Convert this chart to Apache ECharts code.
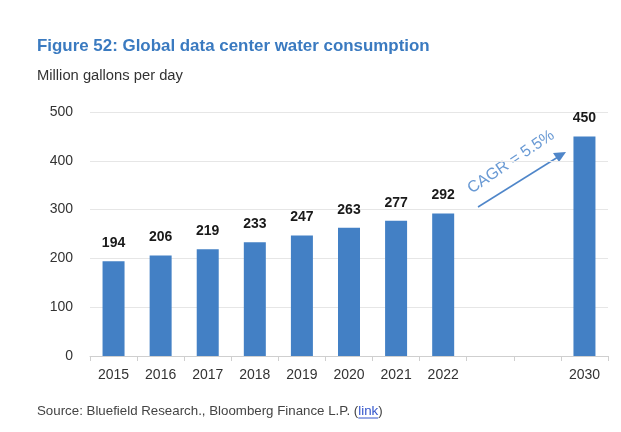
<!DOCTYPE html>
<html><head><meta charset="utf-8">
<script src="https://cdn.jsdelivr.net/npm/echarts@6/dist/echarts.min.js"></script>
<style>html,body{margin:0;padding:0;background:#fff}#c{width:621px;height:432px}</style>
</head><body><div id="c"></div>
<script>
const categories = ['2015','2016','2017','2018','2019','2020','2021','2022','','','2030'];
const values = [194, 206, 219, 233, 247, 263, 277, 292, null, null, 450];
const yTicks = [0, 100, 200, 300, 400, 500];
const titleText = 'Figure 52: Global data center water consumption';
const unitText = 'Million gallons per day';
const cagrText = 'CAGR = 5.5%';
const sourceText = 'Source: Bluefield Research., Bloomberg Finance L.P. (';
const linkText = 'link';

const font = '"Liberation Sans",Arial,sans-serif';
const ctx = document.createElement('canvas').getContext('2d');
function fitSize(text, weight, target) {
  ctx.font = weight + ' 20px ' + font;
  return 20 * target / ctx.measureText(text).width;
}
const titleSize = Math.min(17, fitSize(titleText, 'bold', 393));
const unitSize = fitSize(unitText, 'normal', 146);
const srcSize = fitSize(sourceText + linkText + ')', 'normal', 346);
ctx.font = srcSize + 'px ' + font;
const w1 = ctx.measureText(sourceText).width;
const w2 = ctx.measureText(linkText).width;

const chart = echarts.init(document.getElementById('c'));
chart.setOption({
  animation: false,
  grid: {left: 90, right: 13, top: 112, bottom: 76},
  xAxis: {
    type: 'category', data: categories,
    axisLine: {lineStyle: {color: '#cfcfcf'}},
    axisTick: {show: true, lineStyle: {color: '#cfcfcf'}, length: 5},
    axisLabel: {color: '#333', fontSize: 14, fontFamily: font, margin: 12}
  },
  yAxis: {
    type: 'value', min: yTicks[0], max: yTicks[yTicks.length-1], interval: 100,
    axisLine: {show: false}, axisTick: {show: false},
    splitLine: {lineStyle: {color: '#e6e6e6'}},
    axisLabel: {color: '#333', fontSize: 14, fontFamily: font, margin: 17}
  },
  series: [{
    type: 'bar', data: values, barWidth: 22,
    itemStyle: {color: '#4380C5'},
    label: {show: true, position: 'top', distance: 11, color: '#1a1a1a', fontSize: 14, fontWeight: 'bold', fontFamily: font}
  }],
  graphic: [
    {type: 'text', left: 37, top: 38, style: {text: titleText, fill: '#3A7AC0', font: 'bold ' + titleSize + 'px ' + font}},
    {type: 'text', left: 37, top: 68, style: {text: unitText, fill: '#333', font: unitSize + 'px ' + font}},
    {type: 'text', left: 37, top: 405, style: {text: sourceText, fill: '#444', font: srcSize + 'px ' + font}},
    {type: 'text', left: 37 + w1, top: 405, style: {text: linkText, fill: '#3355CC', font: srcSize + 'px ' + font}},
    {type: 'line', shape: {x1: 37 + w1, y1: 418, x2: 37 + w1 + w2, y2: 418}, style: {stroke: '#3355CC', lineWidth: 1}},
    {type: 'text', left: 37 + w1 + w2, top: 405, style: {text: ')', fill: '#444', font: srcSize + 'px ' + font}},
    {type: 'line', shape: {x1: 478, y1: 207, x2: 558, y2: 157}, style: {stroke: '#4F86C9', lineWidth: 1.5}},
    {type: 'polygon', shape: {points: [[566, 152], [553, 153], [559, 162]]}, style: {fill: '#4F86C9'}},
    {type: 'text', x: 511, y: 162, rotation: 34 * Math.PI / 180,
     style: {text: cagrText, fill: '#6A9AD4', font: '16px ' + font, align: 'center', verticalAlign: 'middle'}}
  ]
});
</script>
</body></html>
